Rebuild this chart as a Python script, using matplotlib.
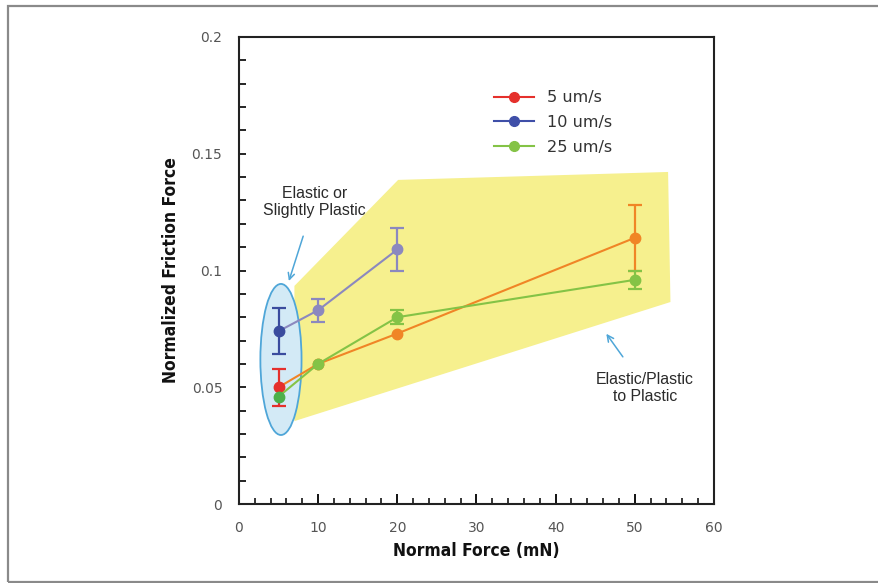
import matplotlib
matplotlib.use("Agg")
import matplotlib.pyplot as plt
from matplotlib.patches import Polygon, Ellipse, Rectangle
from matplotlib.lines import Line2D
from matplotlib.ticker import MultipleLocator

# ---- data ----
x_5 = [5, 10, 20, 50]
y_5 = [0.050, 0.060, 0.073, 0.114]
e_5 = [0.008, 0.0, 0.0, 0.014]

x_10 = [5, 10, 20]
y_10 = [0.074, 0.083, 0.109]
e_10 = [0.0098, 0.005, 0.009]

x_25 = [5, 10, 20, 50]
y_25 = [0.046, 0.060, 0.080, 0.096]
e_25 = [0.0, 0.0, 0.003, 0.004]

series_labels = ["5 um/s", "10 um/s", "25 um/s"]

region_x = [7.0, 20.1, 54.2, 54.5, 7.0]
region_y = [0.0934, 0.1388, 0.1422, 0.0865, 0.0355]

ellipse_center = (5.3, 0.0619)
ellipse_size = (5.2, 0.0647)

fig = plt.figure(figsize=(8.79, 5.83), dpi=100)
fig.patch.set_facecolor("white")
fig.patches.append(Rectangle((8 / 879, 1 / 583), 1.0, 576.5 / 583, transform=fig.transFigure,
                             fill=False, edgecolor="#8a8a8a", linewidth=1.6))

ax = fig.add_axes([239 / 879, 79 / 583, 475 / 879, 467 / 583])
ax.set_xlim(0, 60)
ax.set_ylim(0, 0.2)

# shaded region & ellipse
ax.add_patch(Polygon(list(zip(region_x, region_y)), closed=True, facecolor="#f6f08e",
                     edgecolor="none", zorder=1))
ax.add_patch(Ellipse(ellipse_center, ellipse_size[0], ellipse_size[1], facecolor="#d3eaf6",
                     edgecolor="#4fa6d8", linewidth=1.3, zorder=2))

orange = "#f08526"
red = "#e5302c"
blue_dark = "#3a4c9e"
lav = "#8b88bf"
green = "#84c346"
green_dark = "#4cb04a"

def draw(xs, ys, es, line_color, point_colors, z):
    ax.plot(xs, ys, color=line_color, lw=1.5, zorder=z)
    for xi, yi, ei, c in zip(xs, ys, es, point_colors):
        ax.errorbar([xi], [yi], yerr=[ei] if ei > 0 else None, fmt="o", color=c, ms=7.5,
                    ecolor=c, elinewidth=1.6, capsize=5, capthick=1.6, zorder=z + 0.5)

draw(x_10, y_10, e_10, lav, [blue_dark, lav, lav], 3)
draw(x_5, y_5, e_5, orange, [red, orange, orange, orange], 4)
draw(x_25, y_25, e_25, green, [green_dark, green, green, green], 5)

# annotations
ax.annotate("Elastic or\nSlightly Plastic", xy=(6.3, 0.0955), xytext=(9.5, 0.1295),
            ha="center", va="center", fontsize=11.4, color="#2a2a2a", family="Liberation Sans",
            linespacing=1.15,
            arrowprops=dict(arrowstyle="->", color="#4fa6d8", lw=1.1, shrinkA=12, shrinkB=0))
ax.annotate("Elastic/Plastic\nto Plastic", xy=(46.4, 0.0729), xytext=(51.3, 0.0497),
            ha="center", va="center", fontsize=11.4, color="#2a2a2a", family="Liberation Sans",
            linespacing=1.15,
            arrowprops=dict(arrowstyle="->", color="#4fa6d8", lw=1.1, shrinkA=11, shrinkB=0))

# legend
handles = [Line2D([], [], color=c, marker="o", ms=7, lw=1.5) for c in (red, "#3f4fa8", green)]
leg = ax.legend(handles, series_labels, loc="upper left", bbox_to_anchor=(0.507, 0.917),
                frameon=False, fontsize=11.6, handlelength=2.45, labelspacing=0.6,
                handletextpad=0.8, labelcolor="#333333")

# axes styling
for s in ax.spines.values():
    s.set_linewidth(1.5)
    s.set_color("#222222")
ax.xaxis.set_major_locator(MultipleLocator(10))
ax.xaxis.set_minor_locator(MultipleLocator(2))
ax.yaxis.set_major_locator(MultipleLocator(0.05))
ax.yaxis.set_minor_locator(MultipleLocator(0.01))
ax.tick_params(axis="x", which="major", direction="in", length=7, width=1.3, pad=12,
               labelsize=10, labelcolor="#555555", top=False)
ax.tick_params(axis="x", which="minor", direction="in", length=4, width=1.1, top=False)
ax.tick_params(axis="y", which="both", direction="in", length=5, width=1.2, pad=12,
               labelsize=10, labelcolor="#555555", right=False)
ax.set_yticks([0, 0.05, 0.1, 0.15, 0.2])
ax.set_yticklabels(["0", "0.05", "0.1", "0.15", "0.2"])

ax.set_xlabel("Normal Force (mN)", fontsize=12.5, fontweight="bold", family="DejaVu Sans",
              fontstretch="condensed", labelpad=5, color="#111111")
ax.set_ylabel("Normalized Friction Force", fontsize=12.5, fontweight="bold", family="DejaVu Sans",
              fontstretch="condensed", labelpad=8, color="#111111")

fig.savefig("out.png", dpi=100, facecolor="white")
